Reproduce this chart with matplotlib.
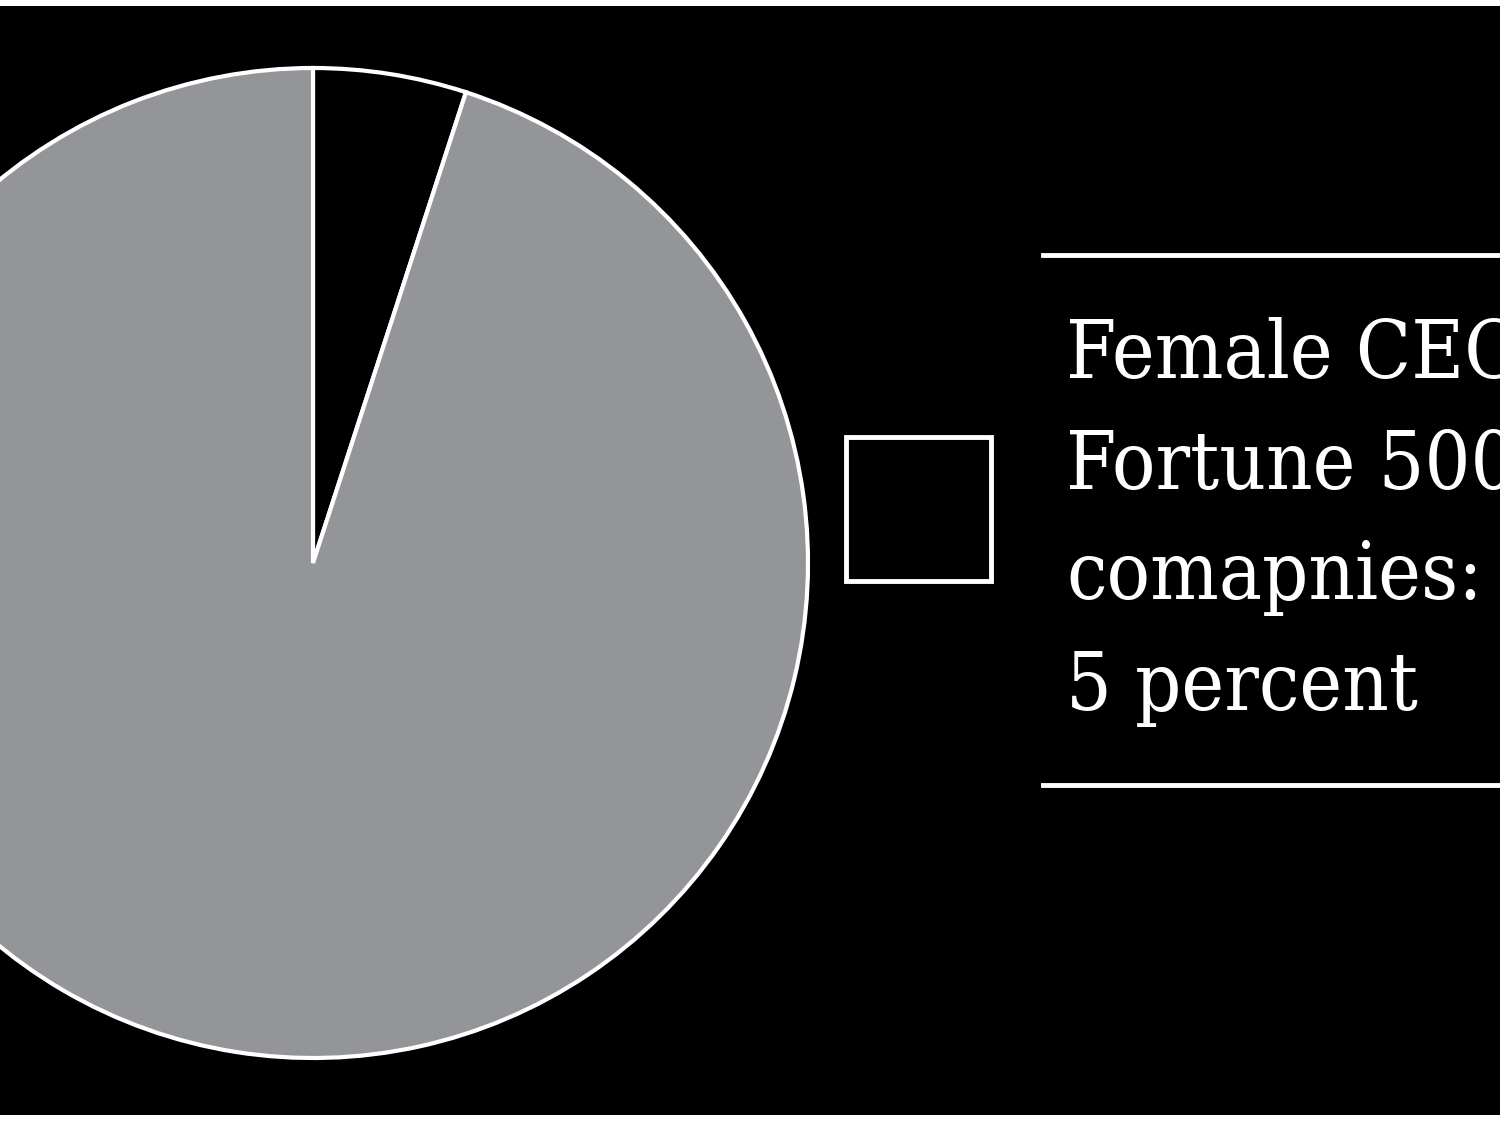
import matplotlib
matplotlib.use('Agg')
import matplotlib.pyplot as plt
from matplotlib.patches import Rectangle

# share of Fortune 500 CEOs
labels = ['Female CEOs', 'Male CEOs']
shares = [5, 95]
colors = ['#000000', '#939598']
legend_text = ['Female CEOs in', 'Fortune 500', 'comapnies:', '5 percent']

fig = plt.figure(figsize=(15, 11.25), dpi=100)
ax = fig.add_axes([0, 0, 1, 1])
ax.set_xlim(0, 1500)
ax.set_ylim(0, 1125)
ax.axis('off')

# black panel with thin white strips at top and bottom
ax.add_patch(Rectangle((0, 10), 1500, 1109, facecolor='black', edgecolor='none'))

ax.pie(shares, colors=colors, startangle=90, counterclock=False,
       center=(313, 562), radius=495,
       wedgeprops=dict(edgecolor='white', linewidth=3))
ax.set_xlim(0, 1500)
ax.set_ylim(0, 1125)
ax.set_aspect('auto')

# legend swatch and text
ax.add_patch(Rectangle((846, 544), 145, 144, facecolor='black', edgecolor='white', linewidth=3.5))
ax.plot([1043, 1500], [870, 870], color='white', lw=3.5)
ax.plot([1043, 1500], [340, 340], color='white', lw=3.5)
for i, t in enumerate(legend_text):
    ax.text(1066, 747 - i * 110.7, t, color='white', fontsize=58,
            family='DejaVu Serif', fontstretch='condensed',
            va='baseline', ha='left')

fig.savefig('out.png', dpi=100, facecolor='white')
